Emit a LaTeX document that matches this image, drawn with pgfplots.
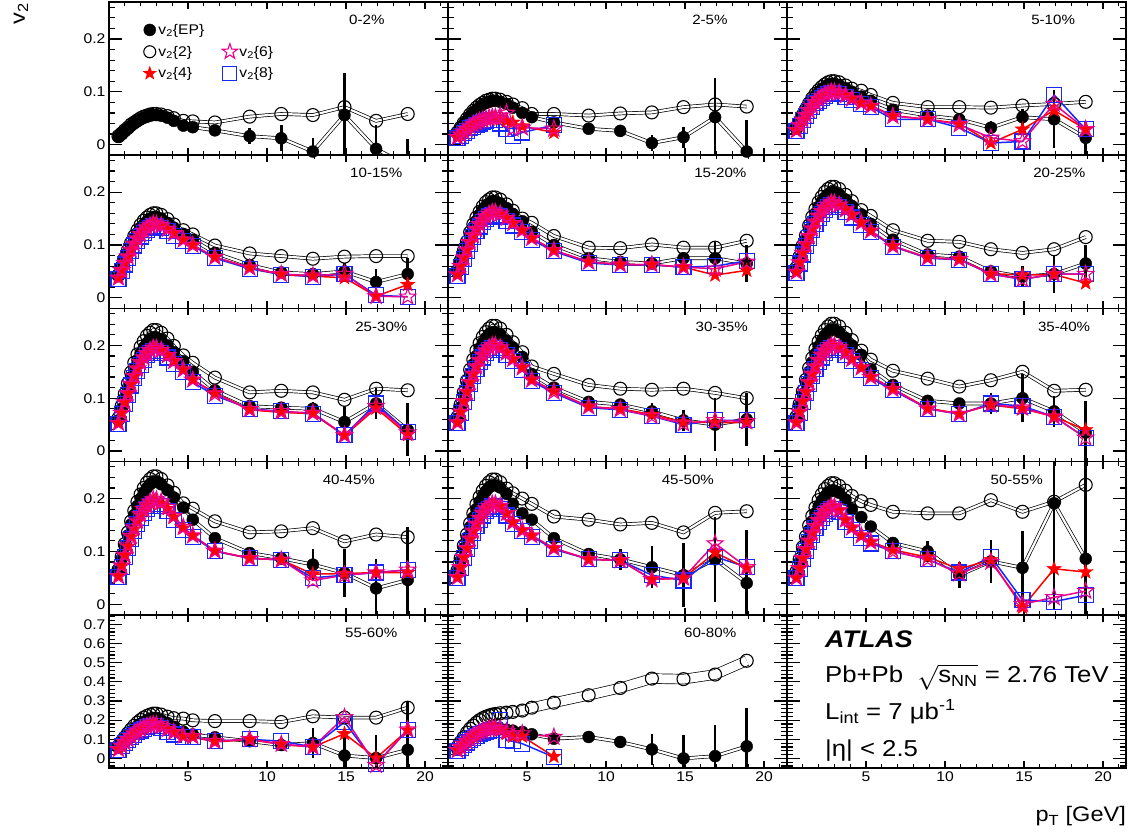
\documentclass[border=0pt]{standalone}
\usepackage{fontspec}
\setmainfont{Liberation Sans}[FakeStretch=1.12]
\usepackage{pgfplots}
\usepackage{pgfplotstable}
\pgfplotsset{compat=1.18}

\definecolor{c8col}{RGB}{20,40,255}

% filled and open five-pointed stars
\pgfdeclareplotmark{fstar}{%
  \pgfpathmoveto{\pgfpointpolar{90}{\pgfplotmarksize}}%
  \pgfpathlineto{\pgfpointpolar{126}{0.4*\pgfplotmarksize}}%
  \pgfpathlineto{\pgfpointpolar{162}{\pgfplotmarksize}}%
  \pgfpathlineto{\pgfpointpolar{198}{0.4*\pgfplotmarksize}}%
  \pgfpathlineto{\pgfpointpolar{234}{\pgfplotmarksize}}%
  \pgfpathlineto{\pgfpointpolar{270}{0.4*\pgfplotmarksize}}%
  \pgfpathlineto{\pgfpointpolar{306}{\pgfplotmarksize}}%
  \pgfpathlineto{\pgfpointpolar{342}{0.4*\pgfplotmarksize}}%
  \pgfpathlineto{\pgfpointpolar{18}{\pgfplotmarksize}}%
  \pgfpathlineto{\pgfpointpolar{54}{0.4*\pgfplotmarksize}}%
  \pgfpathclose\pgfusepathqfillstroke}
\pgfdeclareplotmark{ostar}{%
  \pgfpathmoveto{\pgfpointpolar{90}{\pgfplotmarksize}}%
  \pgfpathlineto{\pgfpointpolar{126}{0.4*\pgfplotmarksize}}%
  \pgfpathlineto{\pgfpointpolar{162}{\pgfplotmarksize}}%
  \pgfpathlineto{\pgfpointpolar{198}{0.4*\pgfplotmarksize}}%
  \pgfpathlineto{\pgfpointpolar{234}{\pgfplotmarksize}}%
  \pgfpathlineto{\pgfpointpolar{270}{0.4*\pgfplotmarksize}}%
  \pgfpathlineto{\pgfpointpolar{306}{\pgfplotmarksize}}%
  \pgfpathlineto{\pgfpointpolar{342}{0.4*\pgfplotmarksize}}%
  \pgfpathlineto{\pgfpointpolar{18}{\pgfplotmarksize}}%
  \pgfpathlineto{\pgfpointpolar{54}{0.4*\pgfplotmarksize}}%
  \pgfpathclose\pgfusepathqstroke}

\tikzset{plab/.style={anchor=north west, inner sep=0pt, yshift=-13pt, font=\fontsize{13.5}{15}\selectfont}}

\pgfplotsset{
  panel/.style={
    scale only axis, width=339pt, height=153.2pt,
    xmin=0, xmax=21.45, ymin=-0.02, ymax=0.27,
    xtick={5,10,15,20},
    minor xtick={1,2,3,4,6,7,8,9,11,12,13,14,16,17,18,19,21},
    ytick={0,0.1,0.2},
    minor ytick={-0.02,0.02,0.04,0.06,0.08,0.12,0.14,0.16,0.18,0.22,0.24,0.26},
    xticklabels={}, yticklabels={},
    axis line style={line width=1.5pt},
    tick style={line width=1.2pt, black},
    major tick length=10pt, minor tick length=5pt,
    xtick style={/pgfplots/major tick length=7pt, /pgfplots/minor tick length=4pt},
    ytick style={/pgfplots/major tick length=13pt, /pgfplots/minor tick length=6pt},
    tick label style={font=\fontsize{14}{14}\selectfont},
    /pgf/number format/assume math mode=true,
    scaled ticks=false,
    unbounded coords=discard,
    axis on top,
  },
  bottomrow/.style={
    ymin=-0.05, ymax=0.75,
    ytick={0,0.1,0.2,0.3,0.4,0.5,0.6,0.7},
    minor ytick={-0.04,-0.02,0.02,0.04,0.06,0.08,0.12,0.14,0.16,0.18,0.22,0.24,0.26,0.28,0.32,0.34,0.36,0.38,0.42,0.44,0.46,0.48,0.52,0.54,0.56,0.58,0.62,0.64,0.66,0.68,0.72,0.74},
    xticklabels={5,10,15,20},
  },
  leftcol/.style={yticklabels={0,0.1,0.2}},
  leftbottom/.style={yticklabels={0,0.1,0.2,0.3,0.4,0.5,0.6,0.7}},
  c2band/.style={no marks, black, line width=0.7pt, double=white, double distance=2.2pt, forget plot},
  epband/.style={no marks, black, line width=0.7pt, double=white, double distance=2.2pt, forget plot},
  c2mk/.style={only marks, mark=o, mark size=6.5pt, black, mark options={line width=1.1pt}, forget plot},
  epmk/.style={only marks, mark=*, mark size=6pt, black, forget plot,
    error bars/.cd, y dir=both, y explicit, error mark=none,
    error bar style={line width=2.5pt, black}},
  c8s/.style={color=c8col, line width=1.5pt, mark=square, mark size=7.5pt, mark options={line width=1.1pt}, forget plot},
  c4s/.style={red, line width=1.5pt, mark=fstar, mark size=7.8pt, mark options={line width=0.3pt}, forget plot},
  c6s/.style={magenta, line width=1.5pt, mark=ostar, mark size=8.5pt, mark options={line width=1.1pt}, forget plot},
  mylegend/.style={
    legend columns=2, legend cell align=left,
    legend style={draw=none, fill=none, at={(rel axis cs:0.1,0.87)}, anchor=north west,
      inner sep=0pt, row sep=6pt, font=\fontsize{14}{15}\selectfont,
      /tikz/every even column/.append style={column sep=16pt}},
    legend image code/.code={\draw[##1] plot coordinates {(7pt,0pt)};},
  },
}

% columns: pT, v2{EP}, stat. error of v2{EP}, v2{2}, v2{4}, v2{6}, v2{8}
\pgfplotstableread{
x ep epe c2 c4 c6 c8
0.6 0.015 0 0.016 nan nan nan
0.8 0.021 0 0.021 nan nan nan
1.0 0.026 0 0.027 nan nan nan
1.2 0.031 0 0.032 nan nan nan
1.4 0.036 0 0.038 nan nan nan
1.6 0.041 0 0.042 nan nan nan
1.8 0.045 0 0.046 nan nan nan
2.0 0.048 0 0.050 nan nan nan
2.2 0.051 0 0.053 nan nan nan
2.4 0.053 0 0.055 nan nan nan
2.6 0.055 0 0.057 nan nan nan
2.8 0.056 0 0.058 nan nan nan
3.0 0.056 0 0.058 nan nan nan
3.3 0.055 0 0.057 nan nan nan
3.7 0.051 0 0.054 nan nan nan
4.1 0.045 0 0.050 nan nan nan
4.7 0.036 0 0.045 nan nan nan
5.3 0.033 0.003 0.044 nan nan nan
6.7 0.027 0.005 0.042 nan nan nan
8.9 0.016 0.015 0.053 nan nan nan
10.9 0.012 0.025 0.058 nan nan nan
12.9 -0.013 0.025 0.056 nan nan nan
14.9 0.056 0.08 0.071 nan nan nan
16.9 -0.008 0.045 0.045 nan nan nan
18.9 -0.04 0.05 0.058 nan nan nan
}\tA
\pgfplotstableread{
x ep epe c2 c4 c6 c8
0.6 0.022 0 0.023 0.014 0.014 0.013
0.8 0.031 0 0.032 0.019 0.019 0.017
1.0 0.039 0 0.041 0.024 0.024 0.022
1.2 0.046 0 0.049 0.028 0.029 0.026
1.4 0.054 0 0.057 0.033 0.034 0.031
1.6 0.061 0 0.064 0.037 0.038 0.034
1.8 0.066 0 0.070 0.040 0.042 0.038
2.0 0.071 0 0.075 0.043 0.045 0.040
2.2 0.076 0 0.079 0.046 0.047 0.043
2.4 0.079 0 0.083 0.048 0.049 0.045
2.6 0.081 0 0.085 0.049 0.051 0.046
2.8 0.083 0 0.087 0.050 0.052 0.047
3.0 0.083 0 0.087 0.050 0.052 0.047
3.3 0.081 0 0.085 0.049 0.055 0.040
3.7 0.077 0 0.081 0.045 0.060 0.030
4.1 0.070 0 0.076 0.042 0.030 0.016
4.7 0.060 0 0.069 0.035 0.032 0.023
5.3 0.052 0.004 0.058 nan nan nan
6.7 0.042 0.006 0.058 0.023 0.030 0.037
8.9 0.030 0.008 0.055 nan nan nan
10.9 0.026 0.012 0.059 nan nan nan
12.9 0.003 0.015 0.061 nan nan nan
14.9 0.014 0.02 0.071 nan nan nan
16.9 0.052 0.075 0.076 nan nan nan
18.9 -0.013 0.06 0.072 nan nan nan
}\tB
\pgfplotstableread{
x ep epe c2 c4 c6 c8
0.6 0.031 0 0.032 0.027 0.027 0.026
0.8 0.043 0 0.044 0.037 0.037 0.036
1.0 0.054 0 0.056 0.047 0.047 0.046
1.2 0.064 0 0.067 0.056 0.056 0.054
1.4 0.075 0 0.078 0.065 0.065 0.063
1.6 0.084 0 0.088 0.073 0.073 0.071
1.8 0.092 0 0.096 0.080 0.080 0.078
2.0 0.099 0 0.103 0.086 0.086 0.083
2.2 0.105 0 0.109 0.091 0.091 0.088
2.4 0.109 0 0.114 0.095 0.095 0.092
2.6 0.113 0 0.118 0.098 0.098 0.095
2.8 0.115 0 0.120 0.100 0.100 0.097
3.0 0.115 0 0.120 0.100 0.100 0.097
3.3 0.113 0 0.118 0.098 0.098 0.095
3.7 0.107 0 0.112 0.093 0.093 0.090
4.1 0.100 0 0.106 0.087 0.087 0.084
4.7 0.091 0 0.102 0.079 0.079 0.077
5.3 0.083 0.003 0.094 0.074 0.073 0.071
6.7 0.066 0.004 0.079 0.055 0.054 0.048
8.9 0.055 0.006 0.071 0.048 0.048 0.048
10.9 0.048 0.008 0.071 0.040 0.038 0.032
12.9 0.032 0.012 0.070 0.003 0.013 0.003
14.9 0.052 0.015 0.074 0.029 0.006 0.006
16.9 0.048 0.055 0.077 0.065 0.077 0.094
18.9 0.013 0.03 0.081 0.029 0.029 0.029
}\tC
\pgfplotstableread{
x ep epe c2 c4 c6 c8
0.6 0.041 0 0.043 0.038 0.038 0.036
0.8 0.057 0 0.059 0.052 0.052 0.050
1.0 0.072 0 0.075 0.066 0.066 0.063
1.2 0.086 0 0.090 0.078 0.078 0.076
1.4 0.099 0 0.104 0.091 0.091 0.088
1.6 0.112 0 0.117 0.102 0.102 0.099
1.8 0.122 0 0.128 0.112 0.112 0.108
2.0 0.132 0 0.138 0.120 0.120 0.116
2.2 0.139 0 0.146 0.127 0.127 0.123
2.4 0.145 0 0.152 0.133 0.133 0.128
2.6 0.150 0 0.157 0.137 0.137 0.132
2.8 0.153 0 0.160 0.140 0.140 0.135
3.0 0.153 0 0.160 0.140 0.140 0.135
3.3 0.150 0 0.157 0.137 0.137 0.132
3.7 0.142 0 0.149 0.130 0.130 0.126
4.1 0.133 0 0.139 0.122 0.122 0.117
4.7 0.121 0 0.128 0.110 0.110 0.107
5.3 0.110 0.002 0.120 0.100 0.100 0.098
6.7 0.085 0.003 0.099 0.077 0.077 0.075
8.9 0.062 0.004 0.084 0.057 0.057 0.055
10.9 0.048 0.006 0.079 0.044 0.045 0.044
12.9 0.045 0.008 0.074 0.041 0.042 0.040
14.9 0.050 0.015 0.078 0.038 0.045 0.045
16.9 0.030 0.025 0.079 0.003 0.003 0.005
18.9 0.045 0.03 0.079 0.025 0.002 0.002
}\tD
\pgfplotstableread{
x ep epe c2 c4 c6 c8
0.6 0.049 0 0.051 0.044 0.044 0.042
0.8 0.068 0 0.070 0.060 0.060 0.058
1.0 0.086 0 0.089 0.076 0.076 0.074
1.2 0.102 0 0.106 0.091 0.091 0.088
1.4 0.119 0 0.124 0.105 0.105 0.102
1.6 0.134 0 0.139 0.118 0.118 0.115
1.8 0.146 0 0.152 0.130 0.130 0.126
2.0 0.157 0 0.163 0.139 0.139 0.135
2.2 0.167 0 0.173 0.147 0.147 0.143
2.4 0.174 0 0.181 0.154 0.154 0.149
2.6 0.179 0 0.186 0.159 0.159 0.154
2.8 0.183 0 0.190 0.162 0.162 0.157
3.0 0.183 0 0.190 0.162 0.162 0.157
3.3 0.179 0 0.186 0.159 0.159 0.154
3.7 0.170 0 0.177 0.151 0.151 0.146
4.1 0.159 0 0.165 0.141 0.141 0.137
4.7 0.145 0 0.150 0.128 0.128 0.124
5.3 0.125 0.002 0.142 0.113 0.113 0.110
6.7 0.100 0.003 0.117 0.090 0.090 0.088
8.9 0.075 0.004 0.095 0.068 0.068 0.066
10.9 0.068 0.005 0.094 0.063 0.063 0.062
12.9 0.065 0.008 0.101 0.063 0.063 0.062
14.9 0.075 0.012 0.095 0.058 0.058 0.058
16.9 0.075 0.03 0.095 0.043 0.055 0.060
18.9 0.065 0.035 0.108 0.052 0.068 0.070
}\tE
\pgfplotstableread{
x ep epe c2 c4 c6 c8
0.6 0.054 0 0.057 0.049 0.049 0.047
0.8 0.074 0 0.078 0.067 0.067 0.065
1.0 0.094 0 0.099 0.085 0.085 0.082
1.2 0.112 0 0.118 0.101 0.101 0.098
1.4 0.130 0 0.137 0.117 0.117 0.114
1.6 0.146 0 0.153 0.131 0.131 0.128
1.8 0.160 0 0.168 0.144 0.144 0.140
2.0 0.172 0 0.181 0.155 0.155 0.151
2.2 0.182 0 0.191 0.164 0.164 0.159
2.4 0.190 0 0.200 0.171 0.171 0.166
2.6 0.196 0 0.206 0.176 0.176 0.172
2.8 0.200 0 0.210 0.180 0.180 0.175
3.0 0.200 0 0.210 0.180 0.180 0.175
3.3 0.196 0 0.206 0.176 0.176 0.172
3.7 0.186 0 0.195 0.167 0.167 0.163
4.1 0.174 0 0.183 0.157 0.157 0.152
4.7 0.158 0 0.166 0.142 0.142 0.138
5.3 0.140 0.002 0.155 0.127 0.127 0.125
6.7 0.110 0.003 0.128 0.098 0.098 0.097
8.9 0.082 0.004 0.108 0.076 0.076 0.075
10.9 0.078 0.006 0.106 0.073 0.073 0.072
12.9 0.050 0.012 0.092 0.046 0.045 0.045
14.9 0.040 0.02 0.085 0.043 0.035 0.035
16.9 0.045 0.035 0.092 0.044 0.045 0.045
18.9 0.065 0.035 0.115 0.028 0.045 0.045
}\tF
\pgfplotstableread{
x ep epe c2 c4 c6 c8
0.6 0.058 0 0.062 0.053 0.053 0.051
0.8 0.080 0 0.085 0.072 0.072 0.070
1.0 0.101 0 0.108 0.092 0.092 0.089
1.2 0.120 0 0.128 0.109 0.109 0.106
1.4 0.140 0 0.149 0.127 0.127 0.124
1.6 0.157 0 0.167 0.142 0.142 0.139
1.8 0.172 0 0.183 0.156 0.156 0.152
2.0 0.185 0 0.197 0.168 0.168 0.163
2.2 0.196 0 0.208 0.177 0.177 0.173
2.4 0.204 0 0.218 0.185 0.185 0.181
2.6 0.211 0 0.224 0.191 0.191 0.186
2.8 0.215 0 0.229 0.195 0.195 0.190
3.0 0.215 0 0.229 0.195 0.195 0.190
3.3 0.211 0 0.224 0.191 0.191 0.186
3.7 0.200 0 0.213 0.181 0.181 0.177
4.1 0.187 0 0.199 0.170 0.170 0.165
4.7 0.170 0 0.181 0.154 0.154 0.150
5.3 0.150 0.002 0.167 0.135 0.135 0.130
6.7 0.115 0.003 0.139 0.110 0.108 0.105
8.9 0.085 0.005 0.111 0.078 0.079 0.080
10.9 0.082 0.007 0.114 0.073 0.075 0.075
12.9 0.080 0.012 0.111 0.071 0.072 0.070
14.9 0.055 0.03 0.097 0.029 0.030 0.030
16.9 0.090 0.03 0.118 0.081 0.085 0.090
18.9 0.040 0.05 0.115 0.031 0.035 0.036
}\tG
\pgfplotstableread{
x ep epe c2 c4 c6 c8
0.6 0.061 0 0.064 0.054 0.054 0.053
0.8 0.083 0 0.088 0.074 0.074 0.072
1.0 0.106 0 0.111 0.094 0.094 0.092
1.2 0.126 0 0.133 0.112 0.112 0.109
1.4 0.146 0 0.154 0.130 0.130 0.127
1.6 0.164 0 0.173 0.146 0.146 0.142
1.8 0.180 0 0.190 0.160 0.160 0.156
2.0 0.194 0 0.204 0.172 0.172 0.168
2.2 0.205 0 0.216 0.182 0.182 0.177
2.4 0.214 0 0.225 0.190 0.190 0.185
2.6 0.221 0 0.232 0.196 0.196 0.191
2.8 0.225 0 0.237 0.200 0.200 0.195
3.0 0.225 0 0.237 0.200 0.200 0.195
3.3 0.221 0 0.232 0.196 0.196 0.191
3.7 0.209 0 0.220 0.186 0.186 0.181
4.1 0.196 0 0.206 0.174 0.174 0.170
4.7 0.178 0 0.187 0.158 0.158 0.154
5.3 0.145 0.002 0.160 0.135 0.135 0.132
6.7 0.120 0.003 0.146 0.114 0.112 0.110
8.9 0.093 0.005 0.125 0.084 0.084 0.082
10.9 0.088 0.007 0.118 0.080 0.079 0.078
12.9 0.075 0.015 0.116 0.069 0.066 0.066
14.9 0.058 0.02 0.118 0.055 0.052 0.050
16.9 0.050 0.05 0.110 0.054 0.058 0.058
18.9 0.060 0.05 0.100 0.054 0.056 0.058
}\tH
\pgfplotstableread{
x ep epe c2 c4 c6 c8
0.6 0.062 0 0.065 0.054 0.054 0.053
0.8 0.085 0 0.089 0.074 0.074 0.072
1.0 0.108 0 0.113 0.094 0.094 0.092
1.2 0.129 0 0.135 0.112 0.112 0.109
1.4 0.150 0 0.157 0.130 0.130 0.127
1.6 0.168 0 0.176 0.146 0.146 0.142
1.8 0.184 0 0.193 0.160 0.160 0.156
2.0 0.198 0 0.207 0.172 0.172 0.168
2.2 0.209 0 0.219 0.182 0.182 0.177
2.4 0.219 0 0.229 0.190 0.190 0.185
2.6 0.225 0 0.236 0.196 0.196 0.191
2.8 0.230 0 0.241 0.200 0.200 0.195
3.0 0.230 0 0.241 0.200 0.200 0.195
3.3 0.225 0 0.236 0.196 0.196 0.191
3.7 0.214 0 0.224 0.186 0.186 0.181
4.1 0.200 0 0.210 0.174 0.174 0.170
4.7 0.182 0 0.190 0.158 0.158 0.154
5.3 0.155 0.002 0.173 0.141 0.140 0.138
6.7 0.125 0.004 0.152 0.118 0.117 0.115
8.9 0.095 0.006 0.137 0.081 0.080 0.080
10.9 0.090 0.01 0.122 0.071 0.070 0.070
12.9 0.090 0.02 0.134 0.087 0.088 0.090
14.9 0.100 0.045 0.150 0.080 0.082 0.085
16.9 0.075 0.03 0.114 0.065 0.065 0.065
18.9 0.035 0.06 0.116 0.040 0.025 0.025
}\tI
\pgfplotstableread{
x ep epe c2 c4 c6 c8
0.6 0.063 0 0.065 0.053 0.053 0.051
0.8 0.086 0 0.090 0.072 0.073 0.070
1.0 0.109 0 0.114 0.092 0.093 0.089
1.2 0.130 0 0.136 0.109 0.111 0.106
1.4 0.151 0 0.157 0.127 0.129 0.124
1.6 0.169 0 0.177 0.142 0.145 0.139
1.8 0.186 0 0.194 0.156 0.158 0.152
2.0 0.200 0 0.208 0.168 0.170 0.163
2.2 0.211 0 0.220 0.177 0.180 0.173
2.4 0.220 0 0.230 0.185 0.188 0.181
2.6 0.227 0 0.237 0.191 0.194 0.186
2.8 0.232 0 0.242 0.195 0.198 0.190
3.0 0.232 0 0.242 0.195 0.198 0.190
3.3 0.227 0 0.237 0.191 0.194 0.186
3.7 0.216 0 0.225 0.181 0.184 0.177
4.1 0.202 0 0.211 0.165 0.167 0.160
4.7 0.183 0 0.191 0.144 0.146 0.140
5.3 0.160 0.003 0.181 0.130 0.130 0.128
6.7 0.125 0.005 0.157 0.101 0.101 0.100
8.9 0.097 0.008 0.136 0.087 0.087 0.087
10.9 0.087 0.012 0.138 0.084 0.084 0.084
12.9 0.075 0.03 0.144 0.057 0.045 0.050
14.9 0.059 0.045 0.119 0.058 0.055 0.055
16.9 0.030 0.055 0.132 0.060 0.060 0.060
18.9 0.046 0.1 0.127 0.060 0.065 0.065
}\tJ
\pgfplotstableread{
x ep epe c2 c4 c6 c8
0.6 0.061 0 0.064 0.051 0.051 0.050
0.8 0.083 0 0.087 0.070 0.070 0.068
1.0 0.106 0 0.111 0.089 0.089 0.087
1.2 0.126 0 0.132 0.106 0.106 0.104
1.4 0.146 0 0.153 0.124 0.124 0.120
1.6 0.164 0 0.172 0.139 0.139 0.135
1.8 0.180 0 0.189 0.152 0.152 0.148
2.0 0.194 0 0.203 0.163 0.163 0.159
2.2 0.205 0 0.215 0.173 0.173 0.168
2.4 0.214 0 0.224 0.181 0.181 0.176
2.6 0.221 0 0.231 0.186 0.186 0.181
2.8 0.225 0 0.236 0.190 0.190 0.185
3.0 0.225 0 0.236 0.190 0.190 0.185
3.3 0.221 0 0.231 0.186 0.186 0.181
3.7 0.209 0 0.219 0.172 0.172 0.168
4.1 0.190 0 0.210 0.155 0.155 0.152
4.7 0.172 0 0.200 0.140 0.140 0.138
5.3 0.160 0.003 0.190 0.130 0.130 0.128
6.7 0.125 0.006 0.166 0.106 0.106 0.104
8.9 0.095 0.01 0.160 0.085 0.085 0.085
10.9 0.085 0.02 0.151 0.083 0.083 0.083
12.9 0.070 0.04 0.154 0.047 0.047 0.055
14.9 0.055 0.06 0.136 0.049 0.050 0.045
16.9 0.085 0.08 0.173 0.098 0.115 0.090
18.9 0.040 0.1 0.176 0.068 0.070 0.070
}\tK
\pgfplotstableread{
x ep epe c2 c4 c6 c8
0.6 0.058 0 0.062 0.050 0.050 0.049
0.8 0.080 0 0.085 0.068 0.068 0.067
1.0 0.101 0 0.108 0.087 0.087 0.085
1.2 0.120 0 0.128 0.104 0.104 0.101
1.4 0.140 0 0.149 0.120 0.120 0.117
1.6 0.157 0 0.167 0.135 0.135 0.131
1.8 0.172 0 0.183 0.148 0.148 0.144
2.0 0.185 0 0.197 0.159 0.159 0.155
2.2 0.196 0 0.208 0.168 0.168 0.164
2.4 0.204 0 0.218 0.176 0.176 0.171
2.6 0.211 0 0.224 0.181 0.181 0.176
2.8 0.215 0 0.229 0.185 0.185 0.180
3.0 0.215 0 0.229 0.185 0.185 0.180
3.3 0.211 0 0.224 0.178 0.178 0.174
3.7 0.198 0 0.215 0.160 0.160 0.156
4.1 0.180 0 0.205 0.145 0.145 0.140
4.7 0.165 0 0.195 0.130 0.130 0.126
5.3 0.147 0.004 0.188 0.118 0.118 0.115
6.7 0.116 0.008 0.175 0.103 0.100 0.100
8.9 0.100 0.02 0.172 0.089 0.085 0.085
10.9 0.055 0.025 0.172 0.067 0.058 0.060
12.9 0.081 0.04 0.197 0.084 0.080 0.090
14.9 0.069 0.07 0.175 -0.006 0.000 0.008
16.9 0.191 0.2 0.194 0.067 0.013 0.005
18.9 0.086 0.25 0.226 0.061 0.025 0.017
}\tL
\pgfplotstableread{
x ep epe c2 c4 c6 c8
0.6 0.057 0 0.063 0.047 0.048 0.046
0.8 0.078 0 0.087 0.065 0.066 0.063
1.0 0.099 0 0.110 0.082 0.084 0.080
1.2 0.118 0 0.131 0.098 0.100 0.095
1.4 0.137 0 0.152 0.114 0.116 0.111
1.6 0.153 0 0.171 0.128 0.130 0.124
1.8 0.168 0 0.187 0.140 0.142 0.136
2.0 0.181 0 0.201 0.151 0.153 0.146
2.2 0.191 0 0.213 0.159 0.162 0.155
2.4 0.200 0 0.222 0.166 0.169 0.162
2.6 0.206 0 0.229 0.172 0.174 0.167
2.8 0.210 0 0.234 0.175 0.178 0.170
3.0 0.210 0 0.234 0.175 0.178 0.170
3.3 0.200 0 0.229 0.165 0.168 0.160
3.7 0.185 0 0.218 0.150 0.152 0.140
4.1 0.165 0 0.210 0.135 0.137 0.125
4.7 0.140 0 0.208 0.115 0.118 0.110
5.3 0.125 0.005 0.199 0.112 0.115 0.110
6.7 0.110 0.01 0.195 0.086 0.090 0.090
8.9 0.090 0.02 0.195 0.098 0.100 0.100
10.9 0.070 0.03 0.190 0.073 0.075 0.090
12.9 0.080 0.08 0.220 0.059 0.060 0.060
14.9 0.015 0.1 0.213 0.129 0.215 0.190
16.9 0.002 0.12 0.213 0.002 -0.035 -0.030
18.9 0.045 0.25 0.265 0.147 0.150 0.150
}\tM
\pgfplotstableread{
x ep epe c2 c4 c6 c8
0.6 0.045 0 0.060 0.042 0.043 0.040
0.8 0.060 0 0.085 0.057 0.059 0.055
1.0 0.076 0 0.110 0.073 0.075 0.070
1.2 0.090 0 0.135 0.087 0.089 0.083
1.4 0.104 0 0.155 0.101 0.103 0.096
1.6 0.116 0 0.172 0.113 0.116 0.108
1.8 0.126 0 0.187 0.124 0.127 0.118
2.0 0.135 0 0.200 0.133 0.137 0.127
2.2 0.142 0 0.210 0.141 0.145 0.134
2.4 0.148 0 0.218 0.147 0.151 0.140
2.6 0.152 0 0.224 0.152 0.156 0.145
2.8 0.155 0 0.229 0.155 0.159 0.148
3.0 0.156 0 0.232 0.155 0.159 0.148
3.3 0.155 0 0.236 0.150 0.155 0.200
3.7 0.150 0 0.239 0.130 0.140 0.094
4.1 0.145 0 0.243 0.115 0.130 0.090
4.7 0.138 0 0.250 0.115 0.130 0.077
5.3 0.126 0.005 0.265 nan nan nan
6.7 0.103 0.01 0.291 0.010 0.112 0.007
8.9 0.112 0.02 0.330 nan nan nan
10.9 0.086 0.03 0.368 nan nan nan
12.9 0.047 0.08 0.417 nan nan nan
14.9 0.000 0.12 0.414 nan nan nan
16.9 0.012 0.16 0.438 nan nan nan
18.9 0.063 0.2 0.510 nan nan nan
}\tN

% #1 x, #2 y, #3 table, #4 axis options, #5 label position, #6 label, #7 extra body
\newcommand\panel[7]{%
\begin{axis}[panel, at={(#1,#2)}, anchor=south west, #4]
\addplot[c2band] table[x=x,y=c2]{#3};
\addplot[epband] table[x=x,y=ep]{#3};
\addplot[c2mk] table[x=x,y=c2]{#3};
\addplot[epmk] table[x=x,y=ep,y error=epe]{#3};
\addplot[c8s] table[x=x,y=c8]{#3};
\addplot[c4s] table[x=x,y=c4]{#3};
\addplot[c6s] table[x=x,y=c6]{#3};
\node[plab] at (rel axis cs:#5,1) {#6};
#7
\end{axis}}

\begin{document}
\begin{tikzpicture}
\path[use as bounding box] (0,0) rectangle (1130pt,838pt);

\panel{109pt}{682.8pt}{\tA}{leftcol, mylegend}{0.708}{0-2\%}{%
  \addlegendimage{mark=*, black, mark size=6pt}
  \addlegendentry{v\textsubscript{2}\{EP\}}
  \addlegendimage{empty legend}
  \addlegendentry{}
  \addlegendimage{mark=o, black, mark size=6pt, mark options={line width=1.1pt}}
  \addlegendentry{v\textsubscript{2}\{2\}}
  \addlegendimage{mark=ostar, magenta, mark size=8pt, mark options={line width=1.1pt}}
  \addlegendentry{v\textsubscript{2}\{6\}}
  \addlegendimage{mark=fstar, red, mark size=7pt}
  \addlegendentry{v\textsubscript{2}\{4\}}
  \addlegendimage{mark=square, color=c8col, mark size=7pt, mark options={line width=1.1pt}}
  \addlegendentry{v\textsubscript{2}\{8\}}}
\panel{448pt}{682.8pt}{\tB}{}{0.72}{2-5\%}{}
\panel{787pt}{682.8pt}{\tC}{}{0.72}{5-10\%}{}

\panel{109pt}{529.6pt}{\tD}{leftcol}{0.711}{10-15\%}{}
\panel{448pt}{529.6pt}{\tE}{}{0.726}{15-20\%}{}
\panel{787pt}{529.6pt}{\tF}{}{0.726}{20-25\%}{}

\panel{109pt}{376.4pt}{\tG}{leftcol}{0.726}{25-30\%}{}
\panel{448pt}{376.4pt}{\tH}{}{0.73}{30-35\%}{}
\panel{787pt}{376.4pt}{\tI}{}{0.74}{35-40\%}{}

\panel{109pt}{223.2pt}{\tJ}{leftcol}{0.63}{40-45\%}{}
\panel{448pt}{223.2pt}{\tK}{}{0.63}{45-50\%}{}
\panel{787pt}{223.2pt}{\tL}{}{0.60}{50-55\%}{}

\panel{109pt}{70pt}{\tM}{bottomrow, leftbottom}{0.696}{55-60\%}{}
\panel{448pt}{70pt}{\tN}{bottomrow, c2band/.append style={double distance=9pt}}{0.696}{60-80\%}{}

\begin{axis}[panel, bottomrow, at={(787pt,70pt)}, anchor=south west]
\node[anchor=base west, inner sep=0pt, font=\fontsize{24}{24}\selectfont\bfseries\itshape]
  at (rel axis cs:0.112,0.785) {ATLAS};
\node[anchor=base west, inner sep=0pt, font=\fontsize{23}{23}\selectfont]
  at (rel axis cs:0.112,0.556) {Pb+Pb\ \ $\sqrt{\mbox{s\textsubscript{NN}}}$ = 2.76 TeV};
\node[anchor=base west, inner sep=0pt, font=\fontsize{23}{23}\selectfont]
  at (rel axis cs:0.112,0.315) {L\textsubscript{int} = 7 μb\textsuperscript{-1}};
\node[anchor=base west, inner sep=0pt, font=\fontsize{23}{23}\selectfont]
  at (rel axis cs:0.112,0.073) {|η| < 2.5};
\end{axis}

\node[anchor=base east, inner sep=0pt, font=\fontsize{21}{21}\selectfont] at (1126pt,16pt) {p\textsubscript{T} [GeV]};
\node[rotate=90, inner sep=0pt, font=\fontsize{21}{21}\selectfont] at (21pt,824pt) {v\textsubscript{2}};
\end{tikzpicture}
\end{document}
